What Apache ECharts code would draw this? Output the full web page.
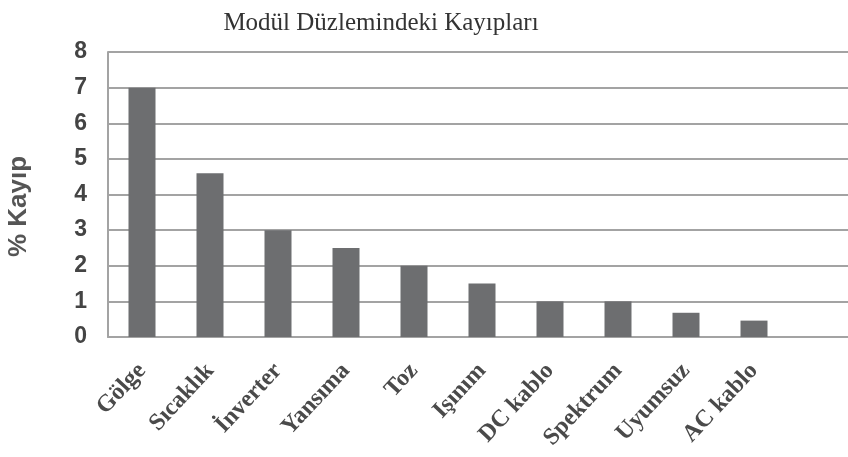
<!DOCTYPE html>
<html lang="tr">
<head>
    <meta charset="UTF-8">
    <title>Modül Düzlemindeki Kayıpları</title>
    <style>
        html, body { margin: 0; padding: 0; background: #fff; }
    </style>
</head>
<body>
<div id="main" style="width: 848px;height:457px;"></div>

<script src="https://cdn.jsdelivr.net/npm/echarts@6/dist/echarts.min.js"></script>
<script>
    // kategoriler (sondaki bos yer grafikteki bos dilim icin)
    var kategoriler = ['Gölge', 'Sıcaklık', 'İnverter', 'Yansıma', 'Toz', 'Işınım', 'DC kablo', 'Spektrum', 'Uyumsuz', 'AC kablo', ''];
    var kayiplar = [7, 4.6, 3, 2.5, 2, 1.5, 1, 1, 0.68, 0.46, null];
    var yEksenMax = 8;
    var yEksenAralik = 1;

    var chart = echarts.init(document.getElementById('main'));
    chart.setOption({
        backgroundColor: '#ffffff',
        animation: false,
        title: {
            text: 'Modül Düzlemindeki Kayıpları',
            left: 376,
            textAlign: 'center',
            top: 6,
            textStyle: {
                fontFamily: 'Liberation Serif',
                fontSize: 25,
                fontWeight: 'normal',
                color: '#333'
            }
        },
        grid: {
            left: 108,
            top: 52,
            right: -8,
            bottom: 120,
            outerBoundsMode: 'none'
        },
        xAxis: {
            type: 'category',
            data: kategoriler,
            axisLine: { show: true, lineStyle: { color: '#a3a3a3', width: 2 } },
            axisTick: { show: false },
            axisLabel: {
                interval: 0,
                rotate: 47,
                margin: 30,
                fontFamily: 'Liberation Serif',
                fontSize: 24,
                fontWeight: 'bold',
                color: '#4a4a4a'
            }
        },
        yAxis: {
            type: 'value',
            min: 0,
            max: yEksenMax,
            interval: yEksenAralik,
            name: '% Kayıp',
            nameLocation: 'middle',
            nameRotate: 90,
            nameGap: 76,
            nameTextStyle: {
                fontFamily: 'Liberation Sans',
                fontSize: 26,
                fontWeight: 'bold',
                color: '#555',
                padding: [0, 24, 0, 0]
            },
            axisLine: { show: true, lineStyle: { color: '#a3a3a3', width: 2 } },
            axisTick: { show: false },
            axisLabel: {
                margin: 21,
                fontFamily: 'Liberation Sans',
                fontSize: 23,
                fontWeight: 'bold',
                color: '#444'
            },
            splitLine: { show: true, lineStyle: { color: '#a3a3a3', width: 2 } }
        },
        series: [
            {
                name: 'Kayıp',
                type: 'bar',
                barWidth: 27,
                itemStyle: { color: '#6d6e70' },
                data: kayiplar
            }
        ]
    });
</script>
</body>
</html>
